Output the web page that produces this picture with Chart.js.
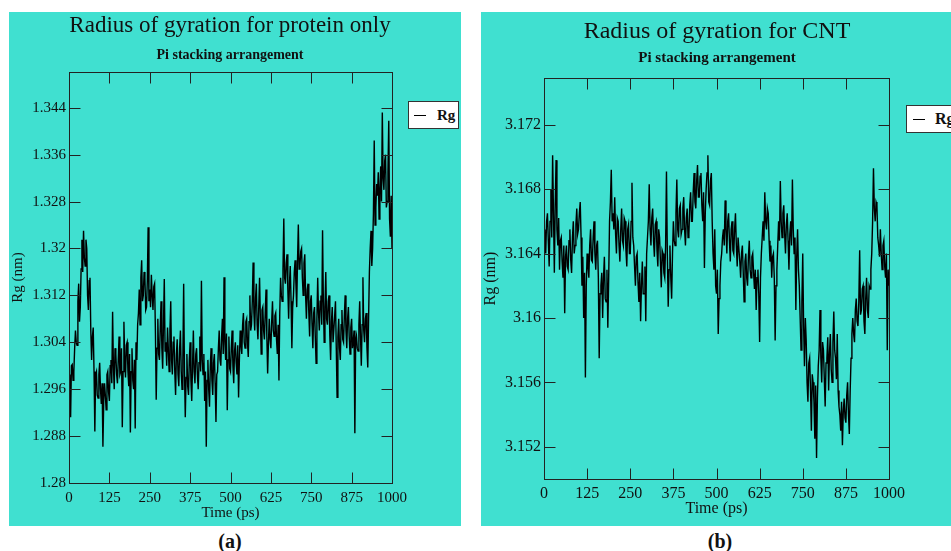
<!DOCTYPE html>
<html>
<head>
<meta charset="utf-8">
<script src="https://cdn.jsdelivr.net/npm/chart.js@4.4.1/dist/chart.umd.min.js"></script>
<style>
  body { margin: 0; background: #fff; width: 951px; height: 551px; overflow: hidden; position: relative; font-family: "Liberation Serif", "Times New Roman", serif; color: #111; }
  .panel { position: absolute; top: 12px; height: 514px; background: #40e0d0; overflow: hidden; }
  .txt { position: absolute; text-align: center; white-space: nowrap; }
  .legend { position: absolute; box-sizing: border-box; height: 28px; background: #fff; border: 1px solid #333; font-weight: bold; }
  .legend i { position: absolute; height: 1px; width: 12px; background: #000; }
  .legend span { position: absolute; line-height: 26px; top: 0; }
</style>
</head>
<body>

<div class="panel" style="left:9px; width:452px;"><canvas id="chartA" width="452" height="514"></canvas></div>
<div class="panel" style="left:481px; width:470px;"><canvas id="chartB" width="470" height="514"></canvas></div>

<div class="txt" style="left:30px; width:400px; top:13px; font-size:23px; line-height:23px;">Radius of gyration for protein only</div>
<div class="txt" style="left:30px; width:400px; top:48px; font-size:14px; line-height:14px; font-weight:bold;">Pi stacking arrangement</div>
<div class="txt" style="left:517px; width:400px; top:18px; font-size:24px; line-height:24px;">Radius of gyration for CNT</div>
<div class="txt" style="left:517px; width:400px; top:50px; font-size:15px; line-height:15px; font-weight:bold;">Pi stacking arrangement</div>

<div class="legend" style="left:408px; top:101px; width:51px;"><i style="left:5px; top:13px;"></i><span style="left:28px; font-size:15px;">Rg</span></div>
<div class="legend" style="left:906px; top:105px; width:60px;"><i style="left:6px; top:13px;"></i><span style="left:28px; font-size:16px;">Rg</span></div>

<div class="txt" style="left:200px; width:60px; top:530px; font-size:20px; line-height:22px; font-weight:bold;">(a)</div>
<div class="txt" style="left:690px; width:60px; top:530px; font-size:20px; line-height:22px; font-weight:bold;">(b)</div>

<script>
// time axis, one sample every 2.5 ps
var time = [];
for (var t = 0; t <= 1000; t += 2.5) time.push(t);

// Rg of the protein (nm), 50 ps per row
var rgProtein = [
  1.2985,1.2970,1.2912,1.3000,1.3002,1.2975,1.2990,1.3030,1.3060,1.3040,1.3035,1.3110,1.3140,1.3075,1.3100,1.3165,1.3215,1.3160,1.3230,1.3185,
  1.3170,1.3215,1.3200,1.3120,1.3095,1.3145,1.3150,1.3060,1.3010,1.3050,1.3065,1.2990,1.2888,1.2985,1.2990,1.2950,1.2945,1.2985,1.3005,1.2960,
  1.2935,1.2970,1.2862,1.2940,1.2970,1.2950,1.2925,1.2985,1.2990,1.2955,1.2940,1.3000,1.3010,1.2970,1.3092,1.3000,1.2960,1.3030,1.3020,1.2985,
  1.2970,1.3010,1.3050,1.2985,1.2990,1.3030,1.2895,1.2990,1.3075,1.3010,1.2980,1.3035,1.3040,1.2990,1.2965,1.3020,1.2886,1.2990,1.3030,1.2975,
  1.2960,1.3010,1.2893,1.3040,1.3010,1.3070,1.3090,1.3130,1.3070,1.3150,1.3180,1.3110,1.3120,1.3160,1.3150,1.3095,1.3100,1.3145,1.3236,1.3110,
  1.3130,1.3100,1.3155,1.3120,1.3095,1.3135,1.3140,1.3060,1.2942,1.3030,1.3080,1.3020,1.3010,1.3065,1.3110,1.3030,1.2995,1.3070,1.3148,1.3025,
  1.3040,1.3000,1.3065,1.3030,1.2990,1.3060,1.3110,1.3010,1.2985,1.3040,1.3050,1.2990,1.2950,1.3020,1.3045,1.2985,1.2965,1.3030,1.3060,1.2990,
  1.2960,1.3010,1.3140,1.2990,1.2912,1.2980,1.3020,1.2965,1.2950,1.3010,1.3040,1.2975,1.2940,1.3000,1.3060,1.2990,1.2970,1.3020,1.3030,1.2985,
  1.2960,1.3005,1.3050,1.2990,1.3145,1.3010,1.2985,1.3020,1.2940,1.2990,1.2862,1.2975,1.3010,1.2960,1.2930,1.3000,1.3030,1.2975,1.2950,1.3005,
  1.3020,1.2970,1.2904,1.2985,1.2990,1.3030,1.3060,1.3010,1.3000,1.3050,1.3080,1.3020,1.3151,1.3040,1.3010,1.3055,1.2924,1.3010,1.3050,1.2995,
  1.2990,1.3030,1.3060,1.3000,1.2970,1.3025,1.3040,1.3005,1.2985,1.3035,1.2946,1.3010,1.3060,1.3035,1.3020,1.3070,1.3090,1.3040,1.3030,1.3075,
  1.3080,1.3040,1.3015,1.3075,1.3120,1.3060,1.3070,1.3110,1.3176,1.3090,1.3060,1.3115,1.3140,1.3070,1.3045,1.3100,1.3150,1.3080,1.3020,1.3095,
  1.3100,1.3060,1.3045,1.3090,1.3130,1.3050,1.2987,1.3040,1.3080,1.3045,1.3030,1.3075,1.3110,1.3060,1.3050,1.3085,1.3090,1.3045,1.3020,1.3070,
  1.2975,1.3090,1.3150,1.3120,1.3110,1.3165,1.3251,1.3150,1.3140,1.3175,1.3190,1.3130,1.3080,1.3140,1.3170,1.3110,1.3030,1.3100,1.3120,1.3160,
  1.3180,1.3140,1.3100,1.3180,1.3241,1.3165,1.3170,1.3195,1.3200,1.3150,1.3120,1.3175,1.3190,1.3120,1.3080,1.3130,1.3140,1.3090,1.3050,1.3110,
  1.3120,1.3070,1.3030,1.3090,1.3100,1.3050,1.3004,1.3080,1.3150,1.3090,1.3060,1.3110,1.3120,1.3070,1.3231,1.3110,1.3040,1.3100,1.3160,1.3080,
  1.3070,1.3110,1.3120,1.3050,1.3010,1.3075,1.3100,1.3040,1.3040,1.3085,1.3110,1.3030,1.2946,1.3050,1.3080,1.3030,1.3010,1.3070,1.3095,1.3045,
  1.3040,1.3085,1.3120,1.3060,1.3030,1.3080,1.3100,1.3050,1.3020,1.3065,1.3080,1.3030,1.3040,1.3060,1.2885,1.3040,1.3050,1.3030,1.3025,1.3070,
  1.3110,1.3050,1.3000,1.3070,1.3151,1.3060,1.3040,1.3080,1.3090,1.3030,1.2997,1.3080,1.3160,1.3200,1.3230,1.3170,1.3200,1.3260,1.3384,1.3240,
  1.3270,1.3310,1.3290,1.3330,1.3250,1.3300,1.3340,1.3280,1.3432,1.3320,1.3300,1.3350,1.3360,1.3270,1.3280,1.3330,1.3418,1.3250,1.3220,1.3290,
  1.3200
];

// Rg of the CNT (nm), 50 ps per row
var rgCNT = [
  3.1655,3.1645,3.1640,3.1660,3.1665,3.1648,3.1632,3.1660,3.1680,3.1650,3.1701,3.1665,3.1628,3.1670,3.1698,3.1655,3.1645,3.1662,3.1630,3.1648,
  3.1650,3.1635,3.1625,3.1645,3.1603,3.1638,3.1645,3.1632,3.1630,3.1648,3.1655,3.1636,3.1628,3.1650,3.1660,3.1640,3.1645,3.1658,3.1668,3.1652,
  3.1655,3.1665,3.1672,3.1650,3.1620,3.1638,3.1600,3.1628,3.1563,3.1620,3.1640,3.1632,3.1625,3.1645,3.1655,3.1636,3.1635,3.1650,3.1660,3.1640,
  3.1630,3.1645,3.1648,3.1625,3.1575,3.1615,3.1620,3.1628,3.1600,3.1625,3.1638,3.1612,3.1610,3.1630,3.1594,3.1625,3.1660,3.1672,3.1692,3.1660,
  3.1665,3.1655,3.1675,3.1652,3.1640,3.1662,3.1660,3.1645,3.1635,3.1655,3.1668,3.1648,3.1645,3.1662,3.1660,3.1642,3.1632,3.1655,3.1658,3.1640,
  3.1640,3.1660,3.1684,3.1650,3.1645,3.1632,3.1620,3.1638,3.1640,3.1622,3.1610,3.1628,3.1598,3.1620,3.1635,3.1615,3.1615,3.1632,3.1598,3.1640,
  3.1650,3.1660,3.1683,3.1655,3.1645,3.1662,3.1668,3.1648,3.1638,3.1658,3.1660,3.1642,3.1632,3.1655,3.1650,3.1635,3.1619,3.1642,3.1640,3.1628,
  3.1625,3.1645,3.1691,3.1640,3.1607,3.1630,3.1645,3.1625,3.1612,3.1640,3.1660,3.1648,3.1645,3.1665,3.1686,3.1655,3.1650,3.1668,3.1670,3.1652,
  3.1655,3.1668,3.1675,3.1655,3.1645,3.1662,3.1668,3.1650,3.1652,3.1670,3.1678,3.1660,3.1660,3.1678,3.1690,3.1672,3.1668,3.1685,3.1695,3.1675,
  3.1675,3.1688,3.1690,3.1670,3.1660,3.1678,3.1631,3.1665,3.1680,3.1690,3.1701,3.1672,3.1670,3.1685,3.1690,3.1660,3.1640,3.1630,3.1655,3.1620,
  3.1615,3.1630,3.1590,3.1612,3.1620,3.1635,3.1640,3.1650,3.1655,3.1645,3.1673,3.1655,3.1640,3.1660,3.1665,3.1648,3.1635,3.1655,3.1660,3.1642,
  3.1640,3.1655,3.1665,3.1645,3.1632,3.1650,3.1650,3.1635,3.1625,3.1640,3.1645,3.1628,3.1610,3.1635,3.1640,3.1625,3.1620,3.1638,3.1648,3.1630,
  3.1625,3.1638,3.1640,3.1628,3.1618,3.1630,3.1605,3.1625,3.1630,3.1615,3.1585,3.1625,3.1640,3.1650,3.1660,3.1648,3.1678,3.1660,3.1655,3.1668,
  3.1665,3.1648,3.1635,3.1645,3.1625,3.1638,3.1640,3.1625,3.1586,3.1620,3.1630,3.1645,3.1660,3.1648,3.1685,3.1660,3.1650,3.1665,3.1670,3.1652,
  3.1640,3.1658,3.1665,3.1648,3.1630,3.1652,3.1660,3.1645,3.1686,3.1655,3.1640,3.1650,3.1605,3.1638,3.1655,3.1630,3.1620,3.1600,3.1580,3.1610,
  3.1640,3.1595,3.1570,3.1600,3.1586,3.1560,3.1548,3.1572,3.1575,3.1555,3.1530,3.1565,3.1560,3.1548,3.1525,3.1558,3.1513,3.1550,3.1570,3.1580,
  3.1605,3.1575,3.1560,3.1585,3.1580,3.1562,3.1545,3.1572,3.1575,3.1588,3.1555,3.1578,3.1590,3.1568,3.1560,3.1585,3.1604,3.1580,3.1575,3.1562,
  3.1590,3.1555,3.1545,3.1540,3.1530,3.1548,3.1521,3.1542,3.1550,3.1538,3.1535,3.1552,3.1560,3.1540,3.1528,3.1555,3.1575,3.1590,3.1600,3.1590,
  3.1585,3.1605,3.1612,3.1598,3.1595,3.1610,3.1642,3.1602,3.1605,3.1618,3.1620,3.1598,3.1590,3.1612,3.1625,3.1605,3.1600,3.1620,3.1618,3.1630,
  3.1640,3.1660,3.1693,3.1668,3.1660,3.1672,3.1670,3.1650,3.1645,3.1638,3.1655,3.1640,3.1630,3.1645,3.1648,3.1632,3.1625,3.1640,3.1580,3.1630,
  3.1620
];

var xTicks = [0, 125, 250, 375, 500, 625, 750, 875, 1000];
var yTicksProtein = [1.28, 1.288, 1.296, 1.304, 1.312, 1.32, 1.328, 1.336, 1.344];
var yTicksCNT = [3.152, 3.156, 3.16, 3.164, 3.168, 3.172];

var serif = '"Liberation Serif", "Times New Roman", serif';

// xmgrace style box: frame on four sides with inward ticks
var framePlugin = {
  id: 'frame',
  afterDatasetsDraw: function(chart) {
    var ctx = chart.ctx, a = chart.chartArea, len = 11;
    var l = Math.round(a.left) + 0.5, r = Math.round(a.right) + 0.5;
    var tp = Math.round(a.top) + 0.5, b = Math.round(a.bottom) + 0.5;
    ctx.save();
    ctx.strokeStyle = '#222';
    ctx.lineWidth = 1;
    ctx.strokeRect(l, tp, r - l, b - tp);
    ctx.beginPath();
    chart.scales.x.ticks.forEach(function(tk) {
      var px = Math.round(chart.scales.x.getPixelForValue(tk.value)) + 0.5;
      ctx.moveTo(px, b); ctx.lineTo(px, b - len);
      ctx.moveTo(px, tp); ctx.lineTo(px, tp + len);
    });
    chart.scales.y.ticks.forEach(function(tk) {
      var py = Math.round(chart.scales.y.getPixelForValue(tk.value)) + 0.5;
      ctx.moveTo(l, py); ctx.lineTo(l + len, py);
      ctx.moveTo(r, py); ctx.lineTo(r - len, py);
    });
    ctx.stroke();
    ctx.restore();
  }
};

function makeChart(id, values, yTicks, yMin, yMax, s) {
  var pts = time.map(function(t, i) { return {x: t, y: values[i]}; });
  return new Chart(document.getElementById(id), {
    type: 'line',
    data: {
      datasets: [{
        label: 'Rg',
        data: pts,
        borderColor: '#000',
        borderWidth: 1.4,
        pointRadius: 0,
        tension: 0,
        fill: false
      }]
    },
    plugins: [framePlugin],
    options: {
      responsive: false,
      animation: false,
      events: [],
      layout: { padding: { left: 0, right: s.right, top: s.top, bottom: 0 } },
      plugins: { legend: { display: false }, tooltip: { enabled: false } },
      scales: {
        x: {
          type: 'linear', min: 0, max: 1000,
          afterBuildTicks: function(sc) { sc.ticks = xTicks.map(function(v) { return {value: v}; }); },
          afterFit: function(sc) { sc.height = s.xh; },
          grid: { display: false, drawTicks: false },
          border: { display: false },
          ticks: { color: '#111', font: { family: serif, size: s.tick }, padding: s.xpad, maxRotation: 0, autoSkip: false,
                   callback: function(v) { return String(v); } },
          title: { display: true, text: 'Time (ps)', color: '#111', font: { family: serif, size: s.tick }, padding: { top: 0, bottom: s.xtb } }
        },
        y: {
          type: 'linear', min: yMin, max: yMax,
          afterBuildTicks: function(sc) { sc.ticks = yTicks.map(function(v) { return {value: v}; }); },
          afterFit: function(sc) { sc.width = s.yw; },
          grid: { display: false, drawTicks: false },
          border: { display: false },
          ticks: { color: '#111', font: { family: serif, size: s.tick }, padding: 3,
                   callback: function(v) { return String(+v.toFixed(3)); } },
          title: { display: true, text: 'Rg (nm)', color: '#111', font: { family: serif, size: s.tick }, padding: { top: 0, bottom: 0 } }
        }
      }
    }
  });
}

makeChart('chartA', rgProtein, yTicksProtein, 1.28, 1.3501,
  { right: 69, top: 60, xh: 43, yw: 60, tick: 15, xpad: 6, xtb: 4 });
makeChart('chartB', rgCNT, yTicksCNT, 3.150, 3.1749,
  { right: 62, top: 66, xh: 47, yw: 63, tick: 16, xpad: 5, xtb: 8 });
</script>
</body>
</html>
